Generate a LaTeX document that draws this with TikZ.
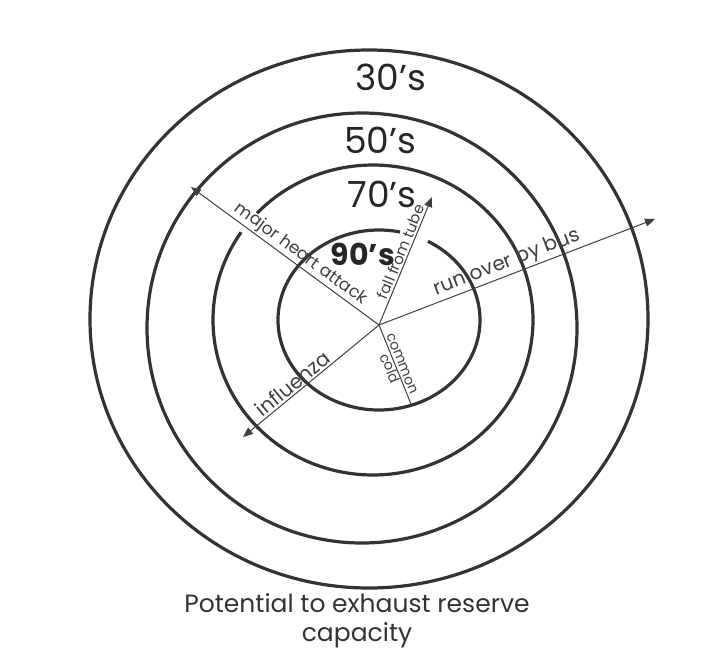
\documentclass[tikz,border=0pt]{standalone}
\usepackage{fontspec}
\setmainfont{Poppins}
\usetikzlibrary{arrows.meta,positioning}
\begin{document}
\begin{tikzpicture}[x=1pt,y=-1pt,>={Triangle[length=10pt,width=8pt]},
  ring/.style={line width=3.2pt,draw=black!80},
  ray/.style={->,line width=1pt,draw=black!75},
  lbl/.style={font=\fontsize{17}{18}\selectfont,text=black!75,inner sep=1.5pt,sloped},
  age/.style={font=\fontsize{36}{38}\selectfont,text=black!85}]
\useasboundingbox (0,0) rectangle (707,656);
\draw[ring] (369,319) ellipse [x radius=279,y radius=269];
\draw[ring] (362,328) ellipse [x radius=215,y radius=215];
\coordinate (o70) at (373,320);\coordinate (o90) at (379,320);
\draw[ring] (o70) ++(223.5:160 and 155) arc[start angle=223.5,end angle=574.5,x radius=160,y radius=155];
\draw[ring] (o90) ++(-61:101 and 90) arc[start angle=-61,end angle=282,x radius=101,y radius=90];
\node[age] (a30) at (391,77) {30's};\node[age] (a50) at (380,140) {50's};
\node[age] (a70) at (382,194) {70's};\node[age,font=\fontsize{30}{32}\selectfont\bfseries] (a90) at (363,254) {90's};
\coordinate (c) at (379,325);
\coordinate (mh) at (191,187);\coordinate (ft) at (432,197);\coordinate (rb) at (655,219);
\coordinate (fl) at (243,437);\coordinate (cc) at (411,404);
\draw[ray] (c)--(mh) node[lbl,above,pos=.45] {major heart attack};
\draw[ray] (c)--(ft) node[lbl,above,pos=.55,font=\fontsize{15}{16}\selectfont] {fall from tube};
\draw[ray] (c)--(rb) node[lbl,above,pos=.48,font=\fontsize{20}{21}\selectfont] {run over by bus};
\draw[ray] (c)--(fl) node[lbl,above,pos=.59,font=\fontsize{20}{21}\selectfont] {influenza};
\draw[ray,-] (c)--(cc) node[lbl,align=center,pos=.52,font=\fontsize{14}{14}\selectfont] {common\\cold};
\node[font=\fontsize{25}{29}\selectfont,align=center,text=black!80] (cap) at (357,621) {Potential to exhaust reserve\\capacity};
\end{tikzpicture}
\end{document}
